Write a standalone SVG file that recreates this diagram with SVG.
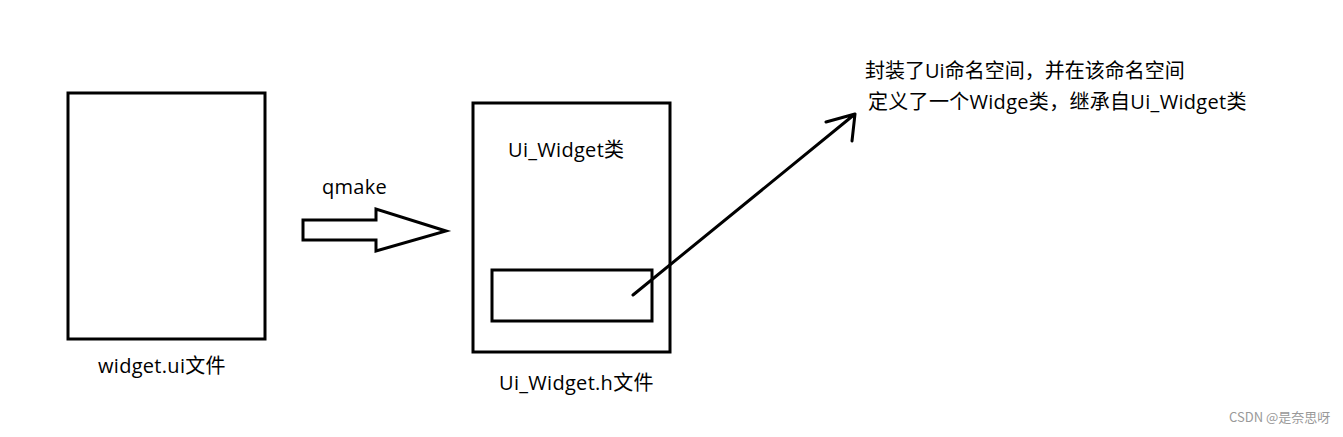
<svg xmlns="http://www.w3.org/2000/svg" width="1343" height="437" viewBox="0 0 1343 437">
<style>
.box{fill:none;stroke:#000;stroke-width:3}
.ln{fill:none;stroke:#000;stroke-width:3;stroke-linecap:round;stroke-linejoin:round}
.t{font-family:"Open Sans","Noto Sans CJK SC",sans-serif;font-size:20px;fill:#000;letter-spacing:0.3px}
.wm{font-family:"Noto Sans CJK SC","Noto Sans",sans-serif;font-size:13px;fill:#999}
</style>
<rect width="1343" height="437" fill="#fff"/>
<g id="widget-ui">
<rect class="box" x="68" y="93" width="197" height="246"/>
<text class="t" x="98" y="373">widget.ui文件</text>
</g>
<g id="ui-widget-h">
<rect class="box" x="473" y="103" width="197" height="249"/>
<text class="t" x="508" y="157">Ui_Widget类</text>
<text class="t" x="499" y="390">Ui_Widget.h文件</text>
</g>
<g id="inner">
<rect class="box" x="492" y="270" width="160" height="51"/>
</g>
<g id="note">
<text class="t" x="865" y="78" style="letter-spacing:0">封装了Ui命名空间，并在该命名空间</text>
<text class="t" x="868" y="109">定义了一个Widge类，继承自Ui_Widget类</text>
</g>
<g id="connectors">
<polygon class="box" points="303,220 376,220 376,209 446,231 376,251 376,240 303,240"/>
<text class="t" x="322" y="194">qmake</text>
<path class="ln" d="M633,295 L855,114 M826,122 L855,114 L852,141"/>
</g>
<text class="wm" x="1229" y="422">CSDN @是奈思呀</text>
</svg>
